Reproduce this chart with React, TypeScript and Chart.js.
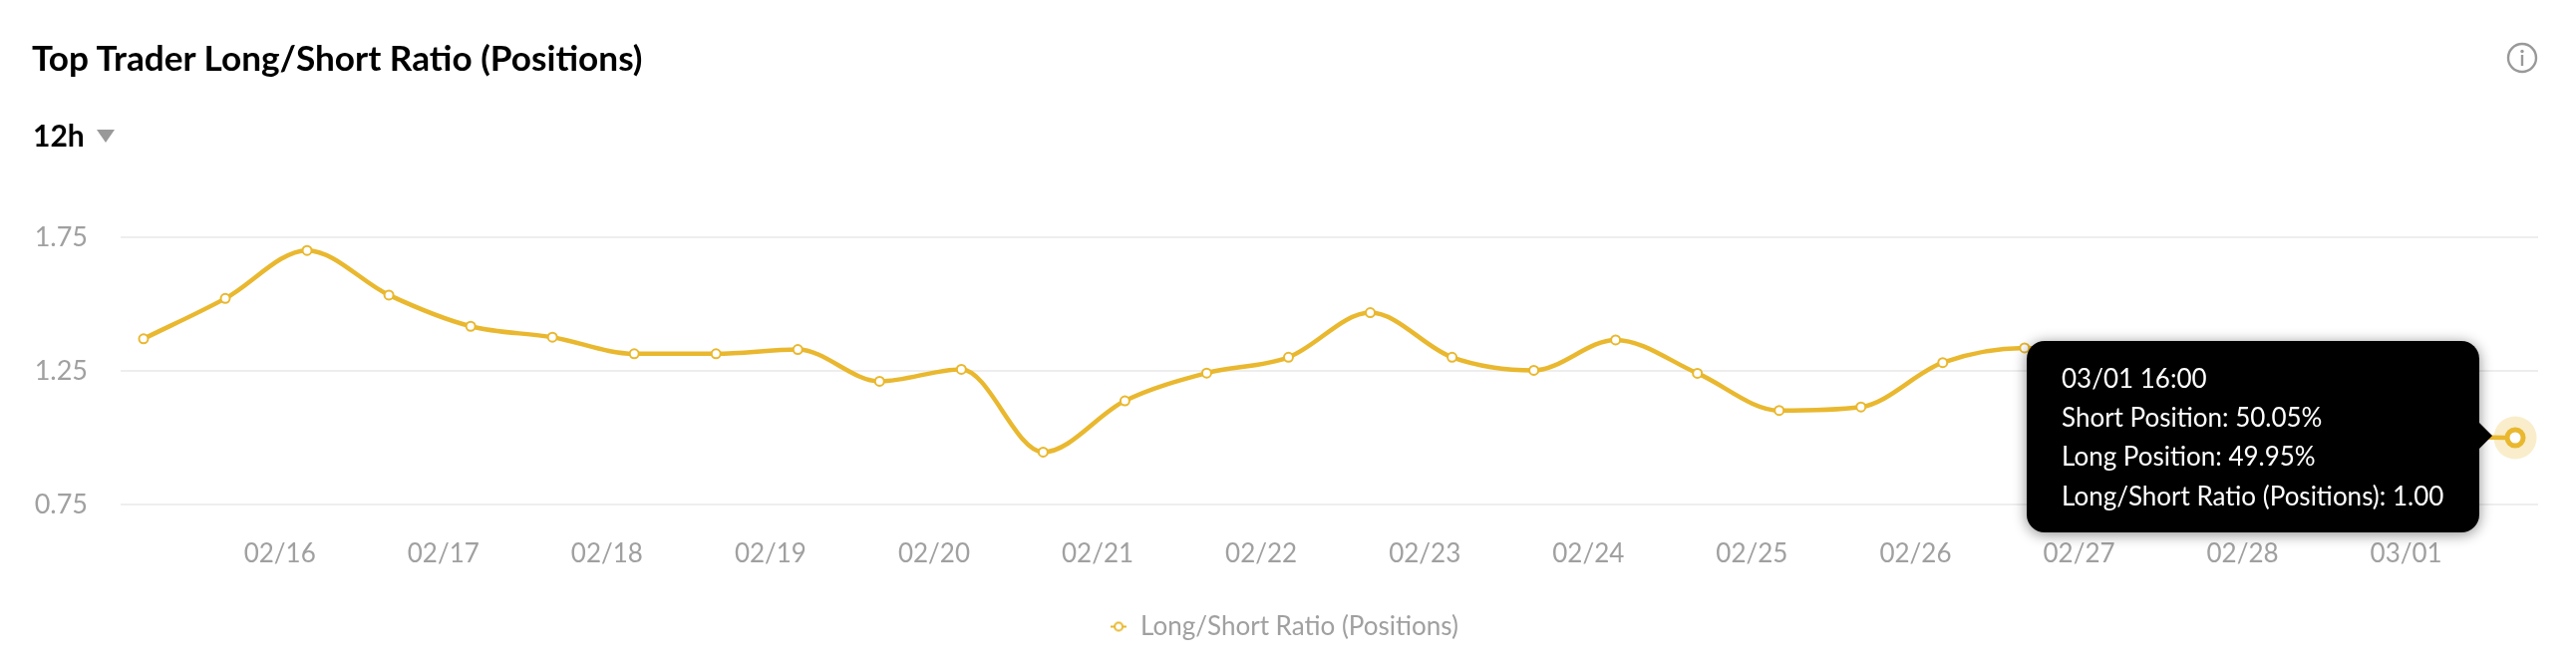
import React, { useEffect, useRef } from "react";
import { Chart, registerables } from "chart.js";

Chart.register(...registerables);

const chartTitle = "Top Trader Long/Short Ratio (Positions)";
const periodLabel = "12h";
const seriesName = "Long/Short Ratio (Positions)";
const hoursSinceStart = [0, 12, 24, 36, 48, 60, 72, 84, 96, 108, 120, 132, 144, 156, 168, 180, 192, 204, 216, 228, 240, 252, 264, 276, 288, 300, 312, 324, 336, 348];
const ratioValues = [1.37, 1.521, 1.701, 1.534, 1.417, 1.376, 1.314, 1.314, 1.33, 1.211, 1.256, 0.946, 1.138, 1.242, 1.301, 1.468, 1.301, 1.252, 1.366, 1.241, 1.102, 1.115, 1.281, 1.336, 1.3, 1.22, 1.16, 1.08, 1.01, 1.0];
const xTickHours = [20, 44, 68, 92, 116, 140, 164, 188, 212, 236, 260, 284, 308, 332];
const xTickLabels = ["02/16", "02/17", "02/18", "02/19", "02/20", "02/21", "02/22", "02/23", "02/24", "02/25", "02/26", "02/27", "02/28", "03/01"];
const yTicks = [0.75, 1.25, 1.75];
const tooltipLines = ["03/01 16:00", "Short Position: 50.05%", "Long Position: 49.95%", "Long/Short Ratio (Positions): 1.00"];

const GOLD = "#E9B82F";
const FONT = "Lato, 'Open Sans', sans-serif";

function legendIcon() {
  const c = document.createElement("canvas");
  c.width = 16;
  c.height = 14;
  const g = c.getContext("2d")!;
  g.strokeStyle = GOLD;
  g.lineWidth = 2;
  g.beginPath();
  g.moveTo(0, 7);
  g.lineTo(4, 7);
  g.moveTo(12, 7);
  g.lineTo(16, 7);
  g.stroke();
  g.beginPath();
  g.arc(8, 7, 4, 0, Math.PI * 2);
  g.fillStyle = "#fff";
  g.fill();
  g.stroke();
  return c;
}

export default function App() {
  const ref = useRef<HTMLCanvasElement>(null);
  useEffect(() => {
    const lastIndex = ratioValues.length - 1;
    const chart = new Chart(ref.current!, {
      type: "line",
      data: {
        datasets: [
          {
            label: seriesName,
            data: hoursSinceStart.map((x, i) => ({ x, y: ratioValues[i] })),
            borderColor: GOLD,
            borderWidth: 4.5,
            cubicInterpolationMode: "monotone",
            backgroundColor: "#fff",
            pointBackgroundColor: "#fff",
            pointBorderColor: GOLD,
            pointRadius: (c: any) => (c.dataIndex === lastIndex ? 8 : 4.5),
            pointBorderWidth: (c: any) => (c.dataIndex === lastIndex ? 5 : 2),
            order: 1,
            clip: false,
          },
          {
            label: "halo",
            data: [{ x: hoursSinceStart[lastIndex], y: ratioValues[lastIndex] }],
            showLine: false,
            pointRadius: 21.5,
            pointBorderWidth: 0,
            pointBackgroundColor: "rgba(233,184,47,0.25)",
            order: 2,
            clip: false,
          },
        ],
      } as any,
      options: {
        animation: false,
        responsive: false,
        events: [],
        layout: { padding: { top: 238, right: 38, bottom: 22.5, left: 30 } },
        plugins: {
          tooltip: { enabled: false },
          legend: {
            position: "bottom",
            labels: {
              usePointStyle: true,
              boxWidth: 18,
              pointStyle: legendIcon(),
              color: "#a0a0a0",
              font: { family: FONT, size: 26 },
              filter: (item: any) => item.text !== "halo",
              padding: 18,
            },
          },
        },
        scales: {
          x: {
            type: "linear",
            min: -3.36,
            max: 351.36,
            grid: { display: false },
            border: { display: false },
            afterBuildTicks: (axis: any) => {
              axis.ticks = xTickHours.map((value) => ({ value }));
            },
            afterFit: (axis: any) => {
              axis.height = 91.5;
            },
            ticks: {
              autoSkip: false,
              maxRotation: 0,
              padding: 26,
              color: "#a0a0a0",
              font: { family: FONT, size: 26 },
              callback: (_v: any, i: number) => xTickLabels[i],
            },
          },
          y: {
            min: yTicks[0],
            max: yTicks[yTicks.length - 1],
            border: { display: false },
            grid: { color: "#eeeeee", lineWidth: 2, drawTicks: false },
            afterBuildTicks: (axis: any) => {
              axis.ticks = yTicks.map((value) => ({ value }));
            },
            afterFit: (axis: any) => {
              axis.width = 91;
            },
            ticks: {
              padding: 33,
              color: "#a0a0a0",
              font: { family: FONT, size: 27 },
              callback: (v: any) => Number(v).toFixed(2),
            },
          },
        },
      } as any,
    });
    return () => chart.destroy();
  }, []);

  return (
    <div style={{ position: "absolute", left: 0, top: 0, width: 2584, height: 674, overflow: "hidden", background: "#fff", fontFamily: FONT }}>
      <canvas ref={ref} width={2584} height={674} style={{ position: "absolute", left: 0, top: 0, display: "block" }} />
      <div style={{ position: "absolute", left: 32, top: 37, lineHeight: "40px", fontSize: 35.2, fontWeight: 700, color: "#000", whiteSpace: "nowrap" }}>{chartTitle}</div>
      <div style={{ position: "absolute", left: 33, top: 115, lineHeight: "40px", fontSize: 30, fontWeight: 700, color: "#000" }}>{periodLabel}</div>
      <div style={{ position: "absolute", left: 97, top: 130, width: 0, height: 0, borderLeft: "9.5px solid transparent", borderRight: "9.5px solid transparent", borderTop: "13px solid #999" }} />
      <svg style={{ position: "absolute", left: 2514, top: 42 }} width="32" height="32" viewBox="0 0 32 32">
        <circle cx="16" cy="16" r="14" fill="none" stroke="#999" strokeWidth="2.4" />
        <circle cx="16" cy="9.5" r="1.7" fill="#999" />
        <rect x="14.8" y="13" width="2.4" height="11" fill="#999" />
      </svg>
      <div style={{ position: "absolute", left: 2033, top: 342, width: 454, height: 192, background: "#000", borderRadius: 18, boxShadow: "0 2px 14px rgba(0,0,0,0.45)" }}>
        {tooltipLines.map((t, i) => (
          <div key={t} style={{ position: "absolute", left: 35, top: 17.5 + i * 39.4, lineHeight: "39px", color: "#fff", fontSize: 26, whiteSpace: "nowrap" }}>{t}</div>
        ))}
      </div>
      <div style={{ position: "absolute", left: 2487, top: 424, width: 0, height: 0, borderTop: "13px solid transparent", borderBottom: "13px solid transparent", borderLeft: "13px solid #000" }} />
    </div>
  );
}
